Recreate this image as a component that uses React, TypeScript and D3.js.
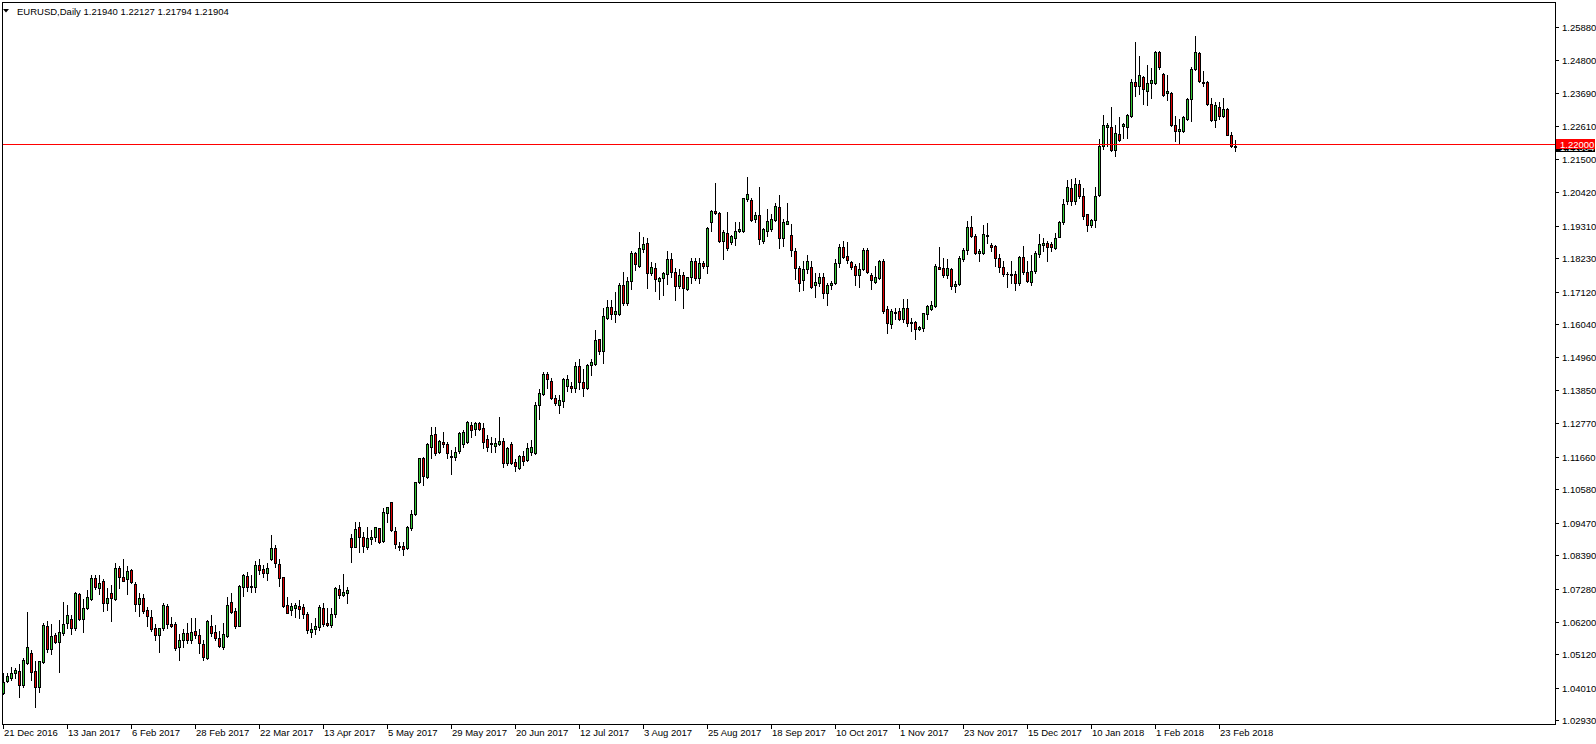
import React from "react";
import * as d3 from "d3";

// Daily EURUSD candles, 21 Dec 2016 .. 1 Mar 2018
const open = [
  1.0385, 1.0425, 1.0434, 1.0451, 1.0457, 1.0410, 1.0484, 1.0515, 1.0457, 1.0405,
  1.0487, 1.0605, 1.0528, 1.0576, 1.0554, 1.0581, 1.0614, 1.0629, 1.0600, 1.0713,
  1.0629, 1.0664, 1.0694, 1.0763, 1.0730, 1.0756, 1.0680, 1.0714, 1.0694, 1.0796,
  1.0767, 1.0760, 1.0791, 1.0745, 1.0677, 1.0697, 1.0658, 1.0634, 1.0598, 1.0576,
  1.0600, 1.0672, 1.0612, 1.0612, 1.0537, 1.0559, 1.0581, 1.0559, 1.0589, 1.0576,
  1.0546, 1.0498, 1.0605, 1.0585, 1.0565, 1.0537, 1.0574, 1.0684, 1.0655, 1.0607,
  1.0736, 1.0771, 1.0738, 1.0736, 1.0807, 1.0794, 1.0782, 1.0827, 1.0863, 1.0811,
  1.0767, 1.0675, 1.0658, 1.0666, 1.0672, 1.0667, 1.0645, 1.0587, 1.0596, 1.0603,
  1.0664, 1.0616, 1.0609, 1.0645, 1.0728, 1.0708, 1.0716, 1.0896, 1.0868, 1.0932,
  1.0901, 1.0868, 1.0893, 1.0899, 1.0929, 1.0887, 1.0981, 1.1015, 1.0920, 1.0870,
  1.0870, 1.0862, 1.0929, 1.0975, 1.1083, 1.1160, 1.1100, 1.1197, 1.1241, 1.1182,
  1.1216, 1.1208, 1.1168, 1.1164, 1.1186, 1.1208, 1.1213, 1.1271, 1.1256, 1.1276,
  1.1260, 1.1224, 1.1210, 1.1202, 1.1207, 1.1218, 1.1144, 1.1209, 1.1148, 1.1130,
  1.1167, 1.1154, 1.1181, 1.1179, 1.1336, 1.1374, 1.1438, 1.1416, 1.1360, 1.1338,
  1.1349, 1.1400, 1.1400, 1.1394, 1.1465, 1.1413, 1.1394, 1.1468, 1.1474, 1.1554,
  1.1515, 1.1626, 1.1661, 1.1639, 1.1639, 1.1735, 1.1675, 1.1747, 1.1840, 1.1798,
  1.1853, 1.1872, 1.1773, 1.1792, 1.1749, 1.1756, 1.1770, 1.1819, 1.1776, 1.1732,
  1.1767, 1.1721, 1.1760, 1.1814, 1.1759, 1.1806, 1.1798, 1.1944, 1.1979, 1.1971,
  1.1880, 1.1905, 1.1878, 1.1891, 1.1913, 1.1914, 1.2019, 1.2016, 1.1952, 1.1966,
  1.1880, 1.1913, 1.1920, 1.1948, 1.1992, 1.1891, 1.1937, 1.1899, 1.1847, 1.1792,
  1.1750, 1.1786, 1.1794, 1.1735, 1.1742, 1.1761, 1.1709, 1.1733, 1.1740, 1.1808,
  1.1860, 1.1830, 1.1810, 1.1797, 1.1766, 1.1786, 1.1849, 1.1767, 1.1745, 1.1758,
  1.1814, 1.1656, 1.1604, 1.1643, 1.1648, 1.1620, 1.1657, 1.1612, 1.1612, 1.1587,
  1.1593, 1.1637, 1.1654, 1.1665, 1.1795, 1.1789, 1.1767, 1.1786, 1.1731, 1.1736,
  1.1819, 1.1849, 1.1927, 1.1896, 1.1839, 1.1841, 1.1898, 1.1865, 1.1863, 1.1822,
  1.1794, 1.1772, 1.1769, 1.1769, 1.1740, 1.1826, 1.1776, 1.1743, 1.1779, 1.1837,
  1.1868, 1.1872, 1.1870, 1.1857, 1.1894, 1.1942, 1.2013, 1.2055, 1.2013, 1.2069,
  1.2028, 1.1969, 1.1934, 1.1949, 1.2033, 1.2195, 1.2258, 1.2256, 1.2182, 1.2234,
  1.2262, 1.2258, 1.2295, 1.2405, 1.2394, 1.2424, 1.2377, 1.2403, 1.2403, 1.2507,
  1.2433, 1.2370, 1.2370, 1.2263, 1.2243, 1.2243, 1.2285, 1.2351, 1.2450, 1.2502,
  1.2406, 1.2406, 1.2334, 1.2281, 1.2322, 1.2292, 1.2317, 1.2232, 1.2194,
];
const high = [
  1.0451, 1.0451, 1.0469, 1.0465, 1.0479, 1.0498, 1.0653, 1.0526, 1.0490, 1.0490,
  1.0617, 1.0623, 1.0612, 1.0583, 1.0625, 1.0686, 1.0675, 1.0641, 1.0719, 1.0716,
  1.0694, 1.0725, 1.0774, 1.0774, 1.0774, 1.0760, 1.0730, 1.0741, 1.0813, 1.0804,
  1.0826, 1.0805, 1.0793, 1.0752, 1.0714, 1.0711, 1.0669, 1.0658, 1.0611, 1.0600,
  1.0681, 1.0677, 1.0634, 1.0618, 1.0578, 1.0596, 1.0614, 1.0631, 1.0631, 1.0596,
  1.0559, 1.0625, 1.0642, 1.0609, 1.0589, 1.0614, 1.0703, 1.0714, 1.0666, 1.0741,
  1.0776, 1.0783, 1.0774, 1.0821, 1.0826, 1.0807, 1.0815, 1.0907, 1.0874, 1.0826,
  1.0769, 1.0700, 1.0680, 1.0680, 1.0692, 1.0678, 1.0653, 1.0614, 1.0631, 1.0675,
  1.0680, 1.0664, 1.0664, 1.0733, 1.0741, 1.0778, 1.0736, 1.0910, 1.0951, 1.0949,
  1.0918, 1.0934, 1.0923, 1.0934, 1.0931, 1.0995, 1.1000, 1.1017, 1.0934, 1.0885,
  1.0885, 1.0936, 1.0989, 1.1083, 1.1162, 1.1166, 1.1210, 1.1265, 1.1265, 1.1221,
  1.1249, 1.1216, 1.1188, 1.1197, 1.1249, 1.1254, 1.1285, 1.1282, 1.1282, 1.1282,
  1.1276, 1.1238, 1.1232, 1.1227, 1.1298, 1.1227, 1.1197, 1.1214, 1.1157, 1.1170,
  1.1184, 1.1212, 1.1220, 1.1347, 1.1391, 1.1446, 1.1446, 1.1427, 1.1369, 1.1371,
  1.1427, 1.1435, 1.1413, 1.1479, 1.1490, 1.1457, 1.1474, 1.1490, 1.1584, 1.1557,
  1.1658, 1.1683, 1.1683, 1.1711, 1.1742, 1.1777, 1.1761, 1.1846, 1.1843, 1.1911,
  1.1894, 1.1889, 1.1811, 1.1806, 1.1762, 1.1778, 1.1847, 1.1839, 1.1789, 1.1787,
  1.1776, 1.1762, 1.1825, 1.1825, 1.1822, 1.1814, 1.1927, 1.1982, 1.2071, 1.1977,
  1.1916, 1.1977, 1.1900, 1.1942, 1.1944, 1.2023, 1.2093, 1.2021, 1.1977, 1.2060,
  1.1924, 1.1985, 1.1968, 1.2007, 1.2031, 1.1951, 1.2007, 1.1935, 1.1858, 1.1797,
  1.1814, 1.1832, 1.1814, 1.1773, 1.1773, 1.1775, 1.1740, 1.1747, 1.1819, 1.1869,
  1.1880, 1.1876, 1.1814, 1.1803, 1.1808, 1.1858, 1.1858, 1.1773, 1.1797, 1.1817,
  1.1819, 1.1665, 1.1656, 1.1659, 1.1659, 1.1687, 1.1689, 1.1626, 1.1615, 1.1598,
  1.1643, 1.1667, 1.1681, 1.1803, 1.1861, 1.1825, 1.1819, 1.1791, 1.1747, 1.1830,
  1.1858, 1.1946, 1.1963, 1.1902, 1.1852, 1.1932, 1.1940, 1.1872, 1.1866, 1.1836,
  1.1814, 1.1777, 1.1814, 1.1780, 1.1831, 1.1864, 1.1815, 1.1835, 1.1848, 1.1903,
  1.1890, 1.1881, 1.1875, 1.1905, 1.1947, 1.2019, 1.2082, 1.2085, 1.2088, 1.2082,
  1.2055, 1.1970, 1.1953, 1.2057, 1.2217, 1.2297, 1.2269, 1.2322, 1.2264, 1.2291,
  1.2270, 1.2300, 1.2416, 1.2537, 1.2493, 1.2426, 1.2463, 1.2452, 1.2510, 1.2510,
  1.2435, 1.2430, 1.2372, 1.2292, 1.2285, 1.2292, 1.2353, 1.2455, 1.2557, 1.2505,
  1.2441, 1.2408, 1.2353, 1.2340, 1.2340, 1.2353, 1.2320, 1.2241, 1.2213,
];
const low = [
  1.0380, 1.0421, 1.0427, 1.0432, 1.0372, 1.0405, 1.0480, 1.0427, 1.0338, 1.0388,
  1.0482, 1.0520, 1.0512, 1.0548, 1.0454, 1.0576, 1.0598, 1.0578, 1.0592, 1.0625,
  1.0587, 1.0661, 1.0692, 1.0727, 1.0711, 1.0656, 1.0658, 1.0622, 1.0692, 1.0730,
  1.0754, 1.0711, 1.0748, 1.0655, 1.0640, 1.0650, 1.0607, 1.0589, 1.0559, 1.0520,
  1.0592, 1.0600, 1.0603, 1.0526, 1.0493, 1.0537, 1.0548, 1.0548, 1.0565, 1.0515,
  1.0493, 1.0496, 1.0574, 1.0559, 1.0537, 1.0529, 1.0570, 1.0647, 1.0600, 1.0605,
  1.0706, 1.0721, 1.0719, 1.0719, 1.0778, 1.0767, 1.0758, 1.0824, 1.0800, 1.0739,
  1.0670, 1.0648, 1.0642, 1.0634, 1.0631, 1.0631, 1.0581, 1.0570, 1.0579, 1.0592,
  1.0605, 1.0605, 1.0603, 1.0636, 1.0697, 1.0705, 1.0680, 1.0818, 1.0866, 1.0851,
  1.0851, 1.0859, 1.0877, 1.0888, 1.0879, 1.0885, 1.0951, 1.0921, 1.0862, 1.0857,
  1.0840, 1.0859, 1.0923, 1.0973, 1.1080, 1.1072, 1.1094, 1.1160, 1.1171, 1.1179,
  1.1199, 1.1160, 1.1109, 1.1155, 1.1177, 1.1199, 1.1210, 1.1232, 1.1238, 1.1254,
  1.1193, 1.1186, 1.1182, 1.1182, 1.1204, 1.1131, 1.1138, 1.1143, 1.1117, 1.1126,
  1.1139, 1.1150, 1.1170, 1.1176, 1.1289, 1.1371, 1.1393, 1.1358, 1.1336, 1.1312,
  1.1330, 1.1382, 1.1380, 1.1380, 1.1391, 1.1367, 1.1391, 1.1435, 1.1470, 1.1507,
  1.1477, 1.1620, 1.1623, 1.1612, 1.1636, 1.1669, 1.1669, 1.1722, 1.1783, 1.1795,
  1.1842, 1.1725, 1.1767, 1.1714, 1.1687, 1.1701, 1.1736, 1.1762, 1.1685, 1.1723,
  1.1659, 1.1718, 1.1740, 1.1751, 1.1740, 1.1789, 1.1773, 1.1913, 1.1968, 1.1875,
  1.1820, 1.1850, 1.1869, 1.1867, 1.1911, 1.1911, 1.2013, 1.1946, 1.1944, 1.1870,
  1.1872, 1.1896, 1.1913, 1.1946, 1.1858, 1.1863, 1.1935, 1.1830, 1.1755, 1.1714,
  1.1717, 1.1773, 1.1725, 1.1695, 1.1731, 1.1692, 1.1667, 1.1720, 1.1736, 1.1795,
  1.1825, 1.1806, 1.1788, 1.1733, 1.1729, 1.1783, 1.1773, 1.1722, 1.1742, 1.1755,
  1.1640, 1.1574, 1.1593, 1.1623, 1.1618, 1.1612, 1.1598, 1.1582, 1.1554, 1.1585,
  1.1582, 1.1620, 1.1651, 1.1662, 1.1786, 1.1762, 1.1758, 1.1722, 1.1711, 1.1733,
  1.1814, 1.1836, 1.1894, 1.1836, 1.1814, 1.1836, 1.1874, 1.1847, 1.1797, 1.1777,
  1.1764, 1.1729, 1.1742, 1.1718, 1.1735, 1.1770, 1.1743, 1.1735, 1.1773, 1.1828,
  1.1848, 1.1815, 1.1846, 1.1853, 1.1892, 1.1936, 1.2002, 1.2000, 1.2002, 1.2022,
  1.1953, 1.1914, 1.1927, 1.1927, 1.2030, 1.2184, 1.2195, 1.2177, 1.2162, 1.2212,
  1.2221, 1.2221, 1.2291, 1.2361, 1.2366, 1.2333, 1.2331, 1.2353, 1.2400, 1.2450,
  1.2359, 1.2348, 1.2259, 1.2210, 1.2201, 1.2241, 1.2281, 1.2276, 1.2447, 1.2406,
  1.2392, 1.2331, 1.2278, 1.2256, 1.2285, 1.2289, 1.2230, 1.2190, 1.2179,
];
const close = [
  1.0421, 1.0440, 1.0449, 1.0460, 1.0410, 1.0493, 1.0535, 1.0454, 1.0405, 1.0490,
  1.0609, 1.0528, 1.0572, 1.0554, 1.0586, 1.0612, 1.0641, 1.0600, 1.0716, 1.0629,
  1.0664, 1.0700, 1.0763, 1.0733, 1.0749, 1.0680, 1.0697, 1.0697, 1.0796, 1.0769,
  1.0756, 1.0788, 1.0750, 1.0678, 1.0699, 1.0656, 1.0640, 1.0596, 1.0576, 1.0598,
  1.0675, 1.0611, 1.0607, 1.0534, 1.0559, 1.0581, 1.0559, 1.0587, 1.0576, 1.0548,
  1.0504, 1.0622, 1.0581, 1.0567, 1.0540, 1.0578, 1.0675, 1.0653, 1.0607, 1.0738,
  1.0774, 1.0736, 1.0736, 1.0807, 1.0791, 1.0782, 1.0796, 1.0863, 1.0815, 1.0765,
  1.0672, 1.0650, 1.0672, 1.0675, 1.0662, 1.0645, 1.0592, 1.0596, 1.0607, 1.0670,
  1.0612, 1.0609, 1.0645, 1.0730, 1.0708, 1.0719, 1.0725, 1.0866, 1.0925, 1.0901,
  1.0870, 1.0896, 1.0899, 1.0932, 1.0882, 1.0982, 1.0998, 1.0923, 1.0876, 1.0866,
  1.0859, 1.0934, 1.0975, 1.1081, 1.1160, 1.1103, 1.1208, 1.1238, 1.1179, 1.1218,
  1.1208, 1.1179, 1.1164, 1.1182, 1.1243, 1.1246, 1.1280, 1.1254, 1.1276, 1.1256,
  1.1213, 1.1197, 1.1208, 1.1212, 1.1218, 1.1144, 1.1193, 1.1146, 1.1134, 1.1167,
  1.1150, 1.1195, 1.1198, 1.1336, 1.1377, 1.1438, 1.1422, 1.1361, 1.1345, 1.1352,
  1.1424, 1.1424, 1.1394, 1.1465, 1.1413, 1.1394, 1.1470, 1.1479, 1.1553, 1.1515,
  1.1632, 1.1661, 1.1639, 1.1648, 1.1735, 1.1675, 1.1746, 1.1840, 1.1803, 1.1856,
  1.1869, 1.1773, 1.1795, 1.1753, 1.1756, 1.1773, 1.1819, 1.1778, 1.1732, 1.1767,
  1.1723, 1.1760, 1.1814, 1.1759, 1.1806, 1.1798, 1.1922, 1.1979, 1.1971, 1.1880,
  1.1911, 1.1858, 1.1896, 1.1913, 1.1920, 1.2021, 1.2035, 1.1949, 1.1966, 1.1885,
  1.1918, 1.1946, 1.1951, 1.1996, 1.1891, 1.1943, 1.1946, 1.1849, 1.1792, 1.1742,
  1.1786, 1.1814, 1.1729, 1.1744, 1.1761, 1.1709, 1.1734, 1.1740, 1.1806, 1.1860,
  1.1828, 1.1817, 1.1795, 1.1766, 1.1788, 1.1849, 1.1777, 1.1750, 1.1761, 1.1814,
  1.1648, 1.1607, 1.1648, 1.1646, 1.1620, 1.1657, 1.1607, 1.1607, 1.1587, 1.1595,
  1.1640, 1.1665, 1.1668, 1.1797, 1.1788, 1.1766, 1.1789, 1.1731, 1.1736, 1.1825,
  1.1850, 1.1927, 1.1898, 1.1839, 1.1847, 1.1902, 1.1901, 1.1861, 1.1825, 1.1795,
  1.1772, 1.1770, 1.1766, 1.1740, 1.1826, 1.1776, 1.1749, 1.1779, 1.1839, 1.1870,
  1.1872, 1.1859, 1.1859, 1.1890, 1.1942, 1.2002, 1.2057, 1.2013, 1.2069, 1.2030,
  1.1964, 1.1934, 1.1949, 1.2030, 1.2195, 1.2264, 1.2264, 1.2182, 1.2236, 1.2215,
  1.2266, 1.2297, 1.2405, 1.2394, 1.2429, 1.2383, 1.2403, 1.2414, 1.2505, 1.2455,
  1.2364, 1.2375, 1.2263, 1.2245, 1.2250, 1.2290, 1.2350, 1.2449, 1.2505, 1.2408,
  1.2403, 1.2334, 1.2281, 1.2329, 1.2292, 1.2317, 1.2232, 1.2193, 1.2190,
];

const dateLabels = [
  "21 Dec 2016", "13 Jan 2017", "6 Feb 2017", "28 Feb 2017", "22 Mar 2017",
  "13 Apr 2017", "5 May 2017", "29 May 2017", "20 Jun 2017", "12 Jul 2017",
  "3 Aug 2017", "25 Aug 2017", "18 Sep 2017", "10 Oct 2017", "1 Nov 2017",
  "23 Nov 2017", "15 Dec 2017", "10 Jan 2018", "1 Feb 2018", "23 Feb 2018",
];
const barsPerLabel = 16;

const priceTicks = [
  1.2588, 1.248, 1.2369, 1.2261, 1.215, 1.2042, 1.1931, 1.1823, 1.1712, 1.1604,
  1.1496, 1.1385, 1.1277, 1.1166, 1.1058, 1.0947, 1.0839, 1.0728, 1.062, 1.0512,
  1.0401, 1.0293,
];

const hLinePrice = 1.22;
const bidPrice = 1.21904;
const symbolTitle = "EURUSD,Daily";
const titleOHLC = ["1.21940", "1.22127", "1.21794", "1.21904"];

const FONT = "'Liberation Sans', Arial, sans-serif";
const UP = "#34c834";
const DOWN = "#e00000";

export default function App() {
  const W = 1596;
  const H = 744;
  const plotLeft = 2;
  const plotTop = 2;
  const plotRight = 1555;
  const plotBottom = 724;
  const N = open.length;

  const x = d3.scaleLinear().domain([0, N - 1]).range([2, 2 + 4 * (N - 1)]);
  const y = d3.scaleLinear().domain([1.0293, 1.2588]).range([720.4, 27.05]);

  const candles = d3.range(N).map((i) => {
    const left = Math.round(x(i));
    const cx = left + 1.5;
    const o = open[i];
    const c = close[i];
    const up = c >= o;
    const yTop = Math.round(y(Math.max(o, c)));
    const yBot = Math.round(y(Math.min(o, c)));
    const yH = Math.round(y(high[i]));
    const yL = Math.round(y(low[i]));
    const h = yBot - yTop;
    return (
      <g key={i}>
        <line x1={cx} x2={cx} y1={yH} y2={yL + 1} stroke="#000" strokeWidth={1} />
        {h >= 1 ? (
          <rect
            x={left + 0.5}
            y={yTop + 0.5}
            width={2}
            height={h}
            fill={up ? UP : DOWN}
            stroke="#000"
            strokeWidth={1}
          />
        ) : (
          <line x1={left} x2={left + 3} y1={yTop + 0.5} y2={yTop + 0.5} stroke="#000" strokeWidth={1} />
        )}
      </g>
    );
  });

  const yLine = Math.round(y(hLinePrice)) + 0.5;
  const yBid = y(bidPrice);

  return (
    <svg
      width={W}
      height={H}
      style={{ position: "absolute", left: 0, top: 0, background: "#fff" }}
      shapeRendering="crispEdges"
      fontFamily={FONT}
    >
      <rect x={0} y={0} width={W} height={H} fill="#fff" />
      {/* frame */}
      <rect
        x={plotLeft + 0.5}
        y={plotTop + 0.5}
        width={plotRight - plotLeft}
        height={plotBottom - plotTop}
        fill="none"
        stroke="#000"
      />
      {/* candles */}
      <g>{candles}</g>
      {/* horizontal line */}
      <line x1={plotLeft + 1} x2={plotRight} y1={yLine} y2={yLine} stroke="#ff0000" strokeWidth={1} />

      {/* price axis */}
      {priceTicks.map((p, k) => {
        const ty = Math.round(y(p)) + 0.5;
        return (
          <g key={"pt" + k}>
            <line x1={plotRight + 0.5} x2={plotRight + 4} y1={ty} y2={ty} stroke="#000" />
            <text x={plotRight + 7} y={ty + 3.5} fontSize={9.5} fill="#000" shapeRendering="auto">
              {p.toFixed(5)}
            </text>
          </g>
        );
      })}
      {/* bid label (hidden under horizontal line label) */}
      <rect x={plotRight + 1} y={Math.round(yBid) - 5} width={39} height={10} fill="#000" />
      <text x={plotRight + 5} y={Math.round(yBid) + 3.5} fontSize={9.5} fill="#fff">
        {bidPrice.toFixed(5)}
      </text>
      <rect x={plotRight + 1} y={Math.round(y(hLinePrice)) - 5} width={39} height={10} fill="#ff0000" />
      <text x={plotRight + 5} y={Math.round(y(hLinePrice)) + 3.5} fontSize={9.5} fill="#fff">
        {hLinePrice.toFixed(5)}
      </text>

      {/* date axis */}
      {dateLabels.map((d, k) => {
        const bi = k * barsPerLabel;
        const tx = Math.round(x(bi)) + 1.5;
        return (
          <g key={"dl" + k}>
            <line x1={tx} x2={tx} y1={plotBottom + 1} y2={plotBottom + 5} stroke="#000" />
            <text x={tx + 0.5} y={plotBottom + 11.5} fontSize={9.5} fill="#000">
              {d}
            </text>
          </g>
        );
      })}

      {/* title */}
      <path d="M3,9 L9,9 L6,12.5 Z" fill="#000" shapeRendering="auto" />
      <text x={17} y={14.5} fontSize={9.5} fill="#000">
        {symbolTitle + "  " + titleOHLC.join(" ")}
      </text>
    </svg>
  );
}
